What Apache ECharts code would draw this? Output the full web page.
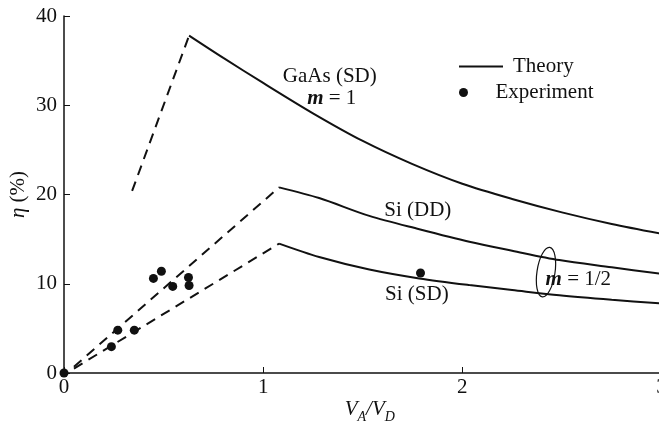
<!DOCTYPE html>
<html>
<head>
<meta charset="utf-8">
<script src="https://cdn.jsdelivr.net/npm/echarts@6/dist/echarts.min.js"></script>
<style>
html,body{margin:0;padding:0;background:#fff;}
#c{width:659px;height:421px;}
</style>
</head>
<body>
<div id="c"></div>
<script>
// ---- data ----
const xTicks = [0, 1, 2, 3];
const yTicks = [0, 10, 20, 30, 40];

const gaasTheory = [[0.628,37.8],[0.8,35.3],[1.0,32.5],[1.25,29.1],[1.5,26.0],[1.75,23.4],[2.0,21.2],[2.25,19.5],[2.5,18.0],[2.75,16.7],[3.0,15.6]];
const siDDTheory = [[1.08,20.8],[1.281,19.6],[1.533,17.6],[1.784,16.1],[2.035,14.7],[2.25,13.7],[2.487,12.65],[2.75,11.85],[3.0,11.1]];
const siSDTheory = [[1.08,14.5],[1.281,13.0],[1.533,11.6],[1.784,10.6],[2.035,9.85],[2.25,9.3],[2.487,8.7],[2.75,8.2],[3.0,7.8]];

const gaasDashed = [[0.342,20.4],[0.628,37.8]];
const siDDDashed = [[0.05,0.7],[1.08,20.8]];
const siSDDashed = [[0.05,0.5],[1.08,14.5]];

const experiment = [[0,0],[0.238,2.95],[0.27,4.8],[0.353,4.8],[0.449,10.6],[0.489,11.4],[0.546,9.7],[0.625,10.7],[0.628,9.8],[1.79,11.2]];

const curveLabels = [
  [1.337, 33.2, 'GaAs (SD)'],
  [1.347, 30.7, '{m|m} = 1'],
  [1.779, 18.2, 'Si (DD)'],
  [1.774, 8.7, 'Si (SD)'],
  [2.585, 10.4, '{m|m} = 1/2']
];
const bracketCenter = [2.42, 11.3];

// ---- chart ----
const FONT = '"Liberation Serif", "DejaVu Serif", serif';
const INK = '#111';
const chart = echarts.init(document.getElementById('c'), null, {renderer: 'canvas'});

function solid(name, data) {
  return {name: name, type: 'line', data: data, smooth: 0.3, symbol: 'none',
    lineStyle: {color: INK, width: 2}, itemStyle: {color: INK}, z: 3};
}
function dashed(data) {
  return {name: 'dash', type: 'line', data: data, symbol: 'none',
    lineStyle: {color: INK, width: 2, type: [10, 7]}, itemStyle: {color: INK}, z: 3};
}

chart.setOption({
  animation: false,
  backgroundColor: '#fff',
  grid: {left: 64, top: 16, bottom: 48, right: -2.5, containLabel: false, outerBoundsMode: 'none'},
  legend: [
    {data: ['Theory'], left: 459, top: 56, padding: 0, icon: 'rect', itemWidth: 44, itemHeight: 2,
     textStyle: {fontFamily: FONT, fontSize: 21, color: INK, padding: [0,0,0,5]}, selectedMode: false},
    {data: ['Experiment'], left: 459, top: 82, padding: 0, icon: 'circle', itemWidth: 44, itemHeight: 9,
     itemStyle: {opacity: 1},
     textStyle: {fontFamily: FONT, fontSize: 21, color: INK, padding: [0,0,0,5]}, selectedMode: false}
  ],
  xAxis: {
    type: 'value', min: xTicks[0], max: xTicks[xTicks.length-1], interval: 1,
    name: '{v|V}{s|A}{v|/V}{s|D}', nameLocation: 'middle', nameGap: 25, nameMoveOverlap: false,
    nameTextStyle: {padding: [0,0,0,14], rich: {
      v: {fontFamily: FONT, fontSize: 21, fontStyle: 'italic', color: INK, lineHeight: 22, verticalAlign: 'bottom'},
      s: {fontFamily: FONT, fontSize: 14, fontStyle: 'italic', color: INK, lineHeight: 22, verticalAlign: 'bottom', padding: [0,0,-4,0]}
    }},
    axisLine: {lineStyle: {color: INK, width: 1.5}},
    axisTick: {show: true, inside: true, length: 6, lineStyle: {color: INK}},
    axisLabel: {fontFamily: FONT, fontSize: 21, color: INK, margin: 4,
      formatter: v => xTicks.indexOf(v) >= 0 ? String(v) : ''},
    splitLine: {show: false}
  },
  yAxis: {
    type: 'value', min: yTicks[0], max: yTicks[yTicks.length-1], interval: 10,
    name: '{e|η} (%)', nameLocation: 'middle', nameGap: 35, nameRotate: 90, nameMoveOverlap: false,
    nameTextStyle: {fontFamily: FONT, fontSize: 21, color: INK, rich: {
      e: {fontFamily: FONT, fontSize: 21, fontStyle: 'italic', color: INK}
    }},
    axisLine: {lineStyle: {color: INK, width: 1.5}},
    axisTick: {show: true, inside: true, length: 6, lineStyle: {color: INK}},
    axisLabel: {fontFamily: FONT, fontSize: 21, color: INK, margin: 7},
    splitLine: {show: false}
  },
  series: [
    solid('Theory', gaasTheory),
    solid('Theory', siDDTheory),
    solid('Theory', siSDTheory),
    dashed(gaasDashed),
    dashed(siDDDashed),
    dashed(siSDDashed),
    {name: 'Experiment', type: 'scatter', data: experiment, symbol: 'circle', symbolSize: 9,
     itemStyle: {color: INK, opacity: 1}, z: 4},
    {name: 'labels', type: 'scatter', data: curveLabels, symbolSize: 1,
     itemStyle: {color: '#fff', opacity: 0}, z: 5, silent: true,
     label: {show: true, position: [0, 0], align: 'center', verticalAlign: 'middle',
       formatter: p => p.data[2], opacity: 1, textBorderWidth: 0,
       fontFamily: FONT, fontSize: 21, color: INK,
       rich: {m: {fontFamily: FONT, fontSize: 21, fontStyle: 'italic', fontWeight: 'bold', color: INK}}}}
  ]
});

const bc = chart.convertToPixel({gridIndex: 0}, bracketCenter);
chart.setOption({
  graphic: [{
    type: 'ellipse', x: bc[0], y: bc[1], rotation: -0.15,
    shape: {cx: 0, cy: 0, rx: 9, ry: 25},
    style: {fill: 'none', stroke: INK, lineWidth: 1.2}, z: 10
  }]
});
</script>
</body>
</html>
